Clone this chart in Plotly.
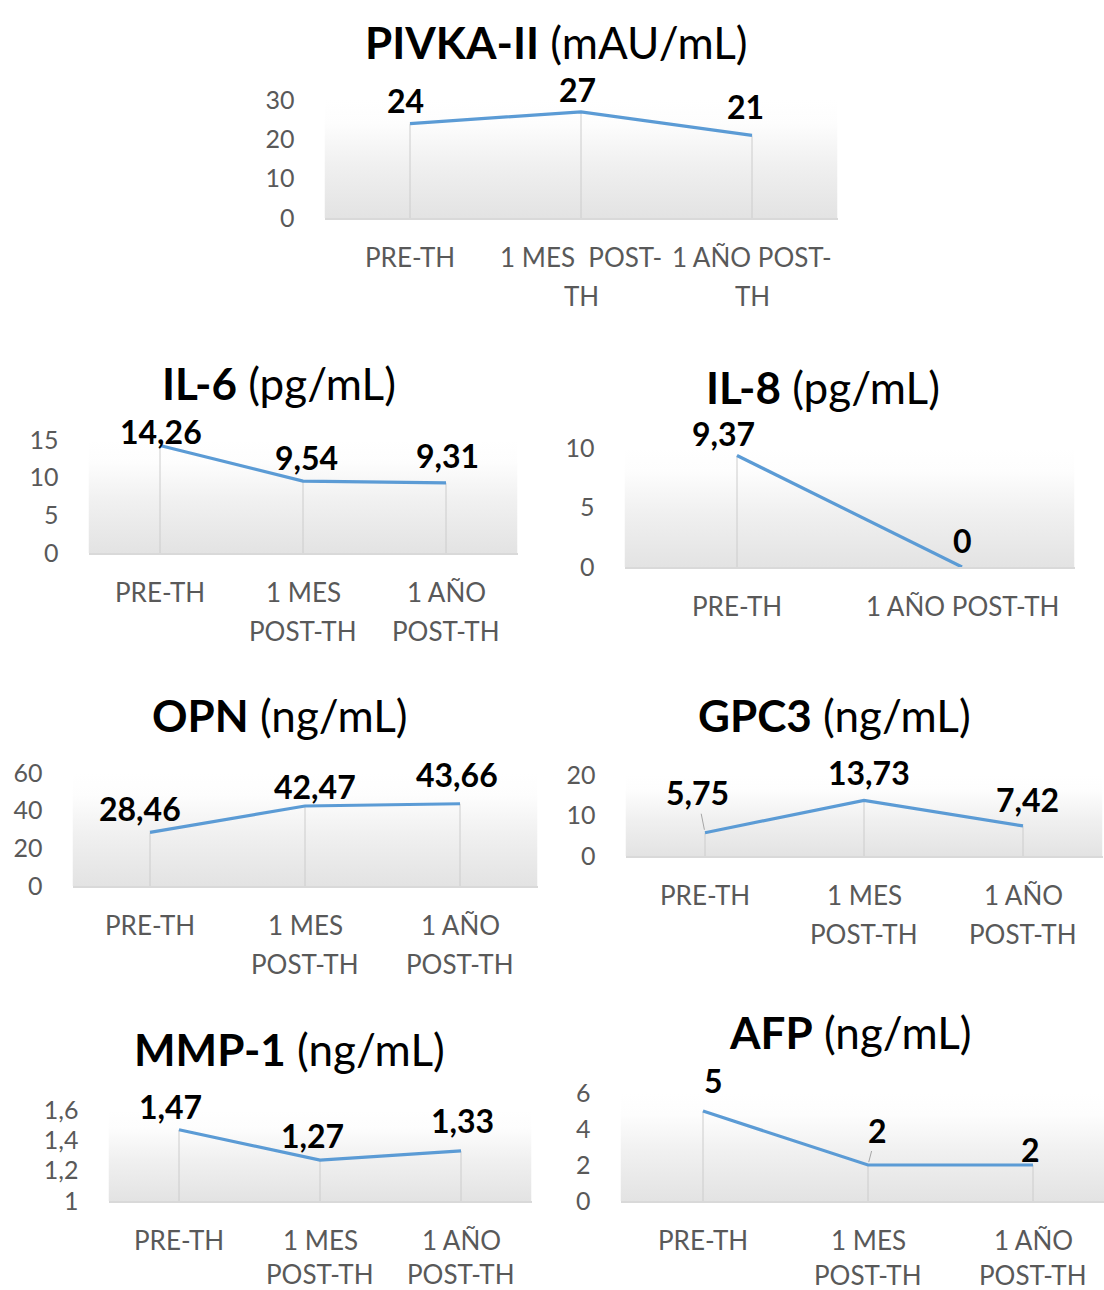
import plotly.graph_objects as go

W, H = 1104, 1290
FONT = "Lato"

# ---------------- data ----------------
cats_3 = ["PRE-TH", "1 MES<br>POST-TH", "1 AÑO<br>POST-TH"]
cats_pivka = ["PRE-TH", "1 MES  POST-<br>TH", "1 AÑO POST-<br>TH"]
cats_il8 = ["PRE-TH", "1 AÑO POST-TH"]

pivka_vals = [24, 27, 21]
il6_vals = [14.26, 9.54, 9.31]
il8_vals = [9.37, 0]
opn_vals = [28.46, 42.47, 43.66]
gpc3_vals = [5.75, 13.73, 7.42]
mmp1_vals = [1.47, 1.27, 1.33]
afp_vals = [5, 2, 2]

pivka_ticks = [0, 10, 20, 30]
il6_ticks = [0, 5, 10, 15]
il8_ticks = [0, 5, 10]
opn_ticks = [0, 20, 40, 60]
gpc3_ticks = [0, 10, 20]
mmp1_ticks = [1, 1.2, 1.4, 1.6]
afp_ticks = [0, 2, 4, 6]

# ---------------- panel layout (pixels) ----------------
# box = (left, right, top, bottom) of the plot area; title = centre of the title
# gap = vertical distance between the two lines of a category label
panels = [
    dict(name="PIVKA-II", unit="(mAU/mL)", cats=cats_pivka, vals=pivka_vals, ticks=pivka_ticks,
         box=(324.5, 837.5, 100, 218), title=(556, 42), gap=39,
         offs=[(-5, 23), (-4, 22), (-7, 29)], leader=[False, False, False]),
    dict(name="IL-6", unit="(pg/mL)", cats=cats_3, vals=il6_vals, ticks=il6_ticks,
         box=(88.5, 517.5, 440, 553), title=(279, 383), gap=39,
         offs=[(1, 14), (3, 24), (1, 27)], leader=[False, False, False]),
    dict(name="IL-8", unit="(pg/mL)", cats=cats_il8, vals=il8_vals, ticks=il8_ticks,
         box=(624.5, 1074.5, 448, 567), title=(823, 387), gap=39,
         offs=[(-14, 22), (0, 27)], leader=[False, False]),
    dict(name="OPN", unit="(ng/mL)", cats=cats_3, vals=opn_vals, ticks=opn_ticks,
         box=(72.5, 537.5, 773, 886), title=(280, 715), gap=39,
         offs=[(-10, 24), (10, 20), (-3, 29)], leader=[False, False, False]),
    dict(name="GPC3", unit="(ng/mL)", cats=cats_3, vals=gpc3_vals, ticks=gpc3_ticks,
         box=(625.5, 1102.5, 775, 856), title=(834, 715), gap=39,
         offs=[(-8, 40), (5, 28), (4, 26)], leader=[True, False, False]),
    dict(name="MMP-1", unit="(ng/mL)", cats=cats_3, vals=mmp1_vals, ticks=mmp1_ticks,
         box=(108.5, 531.5, 1110, 1201), title=(289, 1049), gap=34,
         offs=[(-9, 23), (-8, 25), (1, 30)], leader=[False, False, False]),
    dict(name="AFP", unit="(ng/mL)", cats=cats_3, vals=afp_vals, ticks=afp_ticks,
         box=(620.5, 1115.5, 1093, 1201), title=(850, 1032), gap=35,
         offs=[(10, 31), (9, 35), (-3, 16)], leader=[False, True, False]),
]

CAT_LINE1 = 39   # distance of the first category line below the axis (px)


def fmt(v):
    return f"{v:g}".replace(".", ",")


fig = go.Figure()
annotations = []
layout_axes = {}

for k, p in enumerate(panels, start=1):
    xa = "x" if k == 1 else f"x{k}"
    ya = "y" if k == 1 else f"y{k}"
    n = len(p["vals"])
    left, right, top, bottom = p["box"]
    step = (right - left) / n
    x_end = -0.5 + n
    if right > W:
        x_end = -0.5 + (W - left) / step
        right = W
    ymin, ymax = p["ticks"][0], p["ticks"][-1]
    xs = list(range(n))

    # gradient plot-area background
    fig.add_trace(go.Scatter(
        x=[-0.5, x_end, x_end, -0.5, -0.5], y=[ymin, ymin, ymax, ymax, ymin],
        xaxis=xa, yaxis=ya, mode="lines", line=dict(width=0), fill="toself",
        fillgradient=dict(type="vertical",
                          colorscale=[[0, "#e3e3e3"], [0.45, "#f0f0f0"], [0.8, "#fdfdfd"], [1, "#ffffff"]]),
        hoverinfo="skip", showlegend=False))

    # drop lines from each point to the category axis
    dx, dy = [], []
    for i, v in enumerate(p["vals"]):
        dx += [i, i, None]
        dy += [ymin, v, None]
    fig.add_trace(go.Scatter(x=dx, y=dy, xaxis=xa, yaxis=ya, mode="lines",
                             line=dict(color="#cccccc", width=1),
                             hoverinfo="skip", showlegend=False))

    # series line
    fig.add_trace(go.Scatter(x=xs, y=p["vals"], xaxis=xa, yaxis=ya, mode="lines",
                             line=dict(color="#5b9bd5", width=3.2),
                             showlegend=False, cliponaxis=False))

    # data labels
    for i, v in enumerate(p["vals"]):
        ox, oy = p["offs"][i]
        a = dict(x=i, y=v, xref=xa, yref=ya, text=f"<b>{fmt(v)}</b>",
                 font=dict(family=FONT, size=32, color="#000000"))
        if p["leader"][i]:
            a.update(showarrow=True, ax=ox, ay=-oy, arrowhead=0, arrowwidth=1,
                     arrowcolor="#a6a6a6", standoff=3, xanchor="center", yanchor="middle")
        else:
            a.update(showarrow=False, xshift=ox, yshift=oy)
        annotations.append(a)

    # category labels, one annotation per text line
    for i, cat in enumerate(p["cats"]):
        for j, line in enumerate(cat.split("<br>")):
            annotations.append(dict(
                x=i, xref=xa, y=1 - (bottom + CAT_LINE1 + j * p["gap"]) / H, yref="paper",
                text=line.replace("  ", "&nbsp; "), showarrow=False,
                xanchor="center", yanchor="middle",
                font=dict(family=FONT, size=26, color="#595959")))

    # title
    tx, ty = p["title"]
    annotations.append(dict(x=tx / W, y=1 - ty / H, xref="paper", yref="paper",
                            text=f"<b>{p['name']}</b> {p['unit']}", showarrow=False,
                            xanchor="center", yanchor="middle",
                            font=dict(family=FONT, size=44, color="#000000")))

    key = "" if k == 1 else str(k)
    layout_axes[f"xaxis{key}"] = dict(
        domain=[left / W, right / W], anchor=ya, range=[-0.5, x_end],
        tickvals=xs, showticklabels=False, ticks="", showgrid=False, zeroline=False,
        showline=True, linecolor="#d9d9d9", linewidth=1.5, automargin=False,
        fixedrange=True)
    layout_axes[f"yaxis{key}"] = dict(
        domain=[1 - bottom / H, 1 - top / H], anchor=xa, range=[ymin, ymax],
        tickvals=p["ticks"], ticktext=[fmt(t) for t in p["ticks"]], ticks="",
        showgrid=False, zeroline=False, showline=False, automargin=False,
        tickfont=dict(family=FONT, size=25, color="#595959"), ticklabelstandoff=29,
        fixedrange=True)

fig.update_layout(
    width=W, height=H, margin=dict(l=0, r=0, t=0, b=0, autoexpand=False),
    paper_bgcolor="white", plot_bgcolor="rgba(0,0,0,0)",
    showlegend=False, annotations=annotations, **layout_axes)

fig.write_html("out.html")
